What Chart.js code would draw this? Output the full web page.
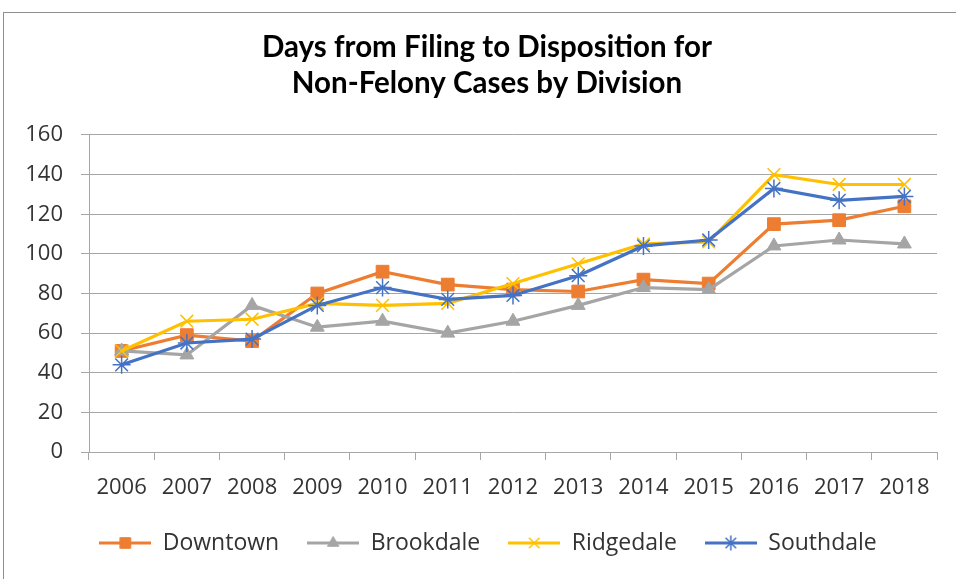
<!DOCTYPE html>
<html>
<head>
<meta charset="utf-8">
<script src="https://cdn.jsdelivr.net/npm/chart.js@4.4.0/dist/chart.umd.min.js"></script>
<style>
  html, body { margin: 0; padding: 0; background: #fff; overflow: hidden; }
  #wrap { position: absolute; left: 0; top: 0; width: 975px; height: 579px; }
  #frame { position: absolute; left: 3px; top: 12px; width: 1000px; height: 600px;
           border: 1px solid #8f8f8f; pointer-events: none; }
</style>
</head>
<body>
<div id="wrap"><canvas id="chartDays"></canvas></div>
<div id="frame"></div>
<script>
const years = ["2006", "2007", "2008", "2009", "2010", "2011", "2012", "2013", "2014", "2015", "2016", "2017", "2018"];
const downtown = [51, 59, 56, 80, 91, 84.5, 82, 81, 87, 85, 115, 117, 124];
const brookdale = [51, 49, 74, 63, 66, 60, 66, 74, 83, 82, 104, 107, 105];
const ridgedale = [51, 66, 67, 75, 74, 75, 85, 95, 105, 106, 140, 135, 135];
const southdale = [44, 55, 57, 74, 83, 77, 79, 89, 104, 107, 133, 127, 129];
const yTicks = [0, 20, 40, 60, 80, 100, 120, 140, 160];

const gridColor = "#a6a6a6";
const textColor = "#333333";

const makeSeries = (label, data, color, style, radius, pointWidth, order) => ({
  label: label,
  data: data,
  borderColor: color,
  backgroundColor: color,
  borderWidth: 3.2,
  pointStyle: style,
  pointRadius: radius,
  pointBorderWidth: pointWidth,
  pointBackgroundColor: color,
  pointBorderColor: color,
  tension: 0,
  fill: false,
  order: order,
});

// legend icon: short line with the marker in the middle
const legendIcon = (ds) => {
  const c = document.createElement("canvas");
  c.width = 52;
  c.height = 18;
  const g = c.getContext("2d");
  g.strokeStyle = ds.borderColor;
  g.lineWidth = 3;
  g.beginPath();
  g.moveTo(0, 9);
  g.lineTo(52, 9);
  g.stroke();
  g.fillStyle = ds.pointBackgroundColor;
  g.strokeStyle = ds.pointBorderColor;
  g.lineWidth = ds.pointBorderWidth;
  Chart.helpers.drawPoint(g, { pointStyle: ds.pointStyle, radius: ds.pointRadius - 1.5, borderWidth: ds.pointBorderWidth, rotation: 0 }, 26, 9);
  return c;
};

// title and legend sit a bit right of the plot centre in the original
const shiftBoxes = {
  id: "shiftBoxes",
  afterLayout(chart) {
    const t = chart.titleBlock;
    t.left += 6;
    t.right += 6;
    const l = chart.legend;
    const dy = 543 - (l.top + l.options.labels.padding + l.options.labels.font.size / 2);
    l.left += 7;
    l.right += 7;
    l.top += dy;
    l.bottom += dy;
  },
};

const runChartDays = () => {
  const ctx = document.getElementById("chartDays").getContext("2d");
  const myChart = new Chart(ctx, {
    type: "line",
    data: {
      labels: years,
      datasets: [
        makeSeries("Downtown", downtown, "#ED7D31", "rect", 9, 1, 4),
        makeSeries("Brookdale", brookdale, "#A5A5A5", "triangle", 8, 1, 3),
        makeSeries("Ridgedale", ridgedale, "#FFC000", "crossRot", 9, 1.5, 2),
        makeSeries("Southdale", southdale, "#4472C4", "star", 9, 1.5, 1),
      ],
    },
    options: {
      responsive: true,
      maintainAspectRatio: false,
      animation: false,
      layout: {
        padding: { left: 25, right: 38, top: 0, bottom: 4 },
      },
      scales: {
        x: {
          offset: true,
          afterFit: (scale) => {
            scale.height = 62;
          },
          grid: {
            offset: true,
            drawOnChartArea: false,
            color: gridColor,
            tickLength: 8,
          },
          border: { color: gridColor },
          ticks: {
            color: textColor,
            font: { family: "Open Sans", size: 22 },
            maxRotation: 0,
            autoSkip: false,
            padding: 15,
          },
        },
        y: {
          min: yTicks[0],
          max: yTicks[yTicks.length - 1],
          afterFit: (scale) => {
            scale.width = 64;
          },
          grid: {
            color: gridColor,
            tickLength: 8,
          },
          border: { color: gridColor },
          afterBuildTicks: (scale) => {
            scale.ticks = yTicks.map((v) => ({ value: v }));
          },
          ticks: {
            color: textColor,
            font: { family: "Open Sans", size: 22 },
            padding: 18,
          },
        },
      },
      plugins: {
        title: {
          display: true,
          text: ["Days from Filing to Disposition for", "Non-Felony Cases by Division"],
          color: "#000000",
          font: { family: "Lato", size: 29.5, weight: "bold", lineHeight: 1.22 },
          padding: { top: 29, bottom: 34 },
        },
        legend: {
          position: "bottom",
          labels: {
            usePointStyle: true,
            pointStyleWidth: 52,
            color: textColor,
            font: { family: "Open Sans", size: 23 },
            padding: 28,
            generateLabels: (chart) =>
              chart.data.datasets.map((ds, i) => ({
                text: ds.label,
                pointStyle: legendIcon(ds),
                fillStyle: ds.backgroundColor,
                strokeStyle: ds.borderColor,
                lineWidth: 0,
                fontColor: textColor,
                hidden: !chart.isDatasetVisible(i),
                datasetIndex: i,
              })),
          },
        },
        tooltip: { enabled: false },
      },
    },
    plugins: [shiftBoxes],
  });
};

runChartDays();
</script>
</body>
</html>
